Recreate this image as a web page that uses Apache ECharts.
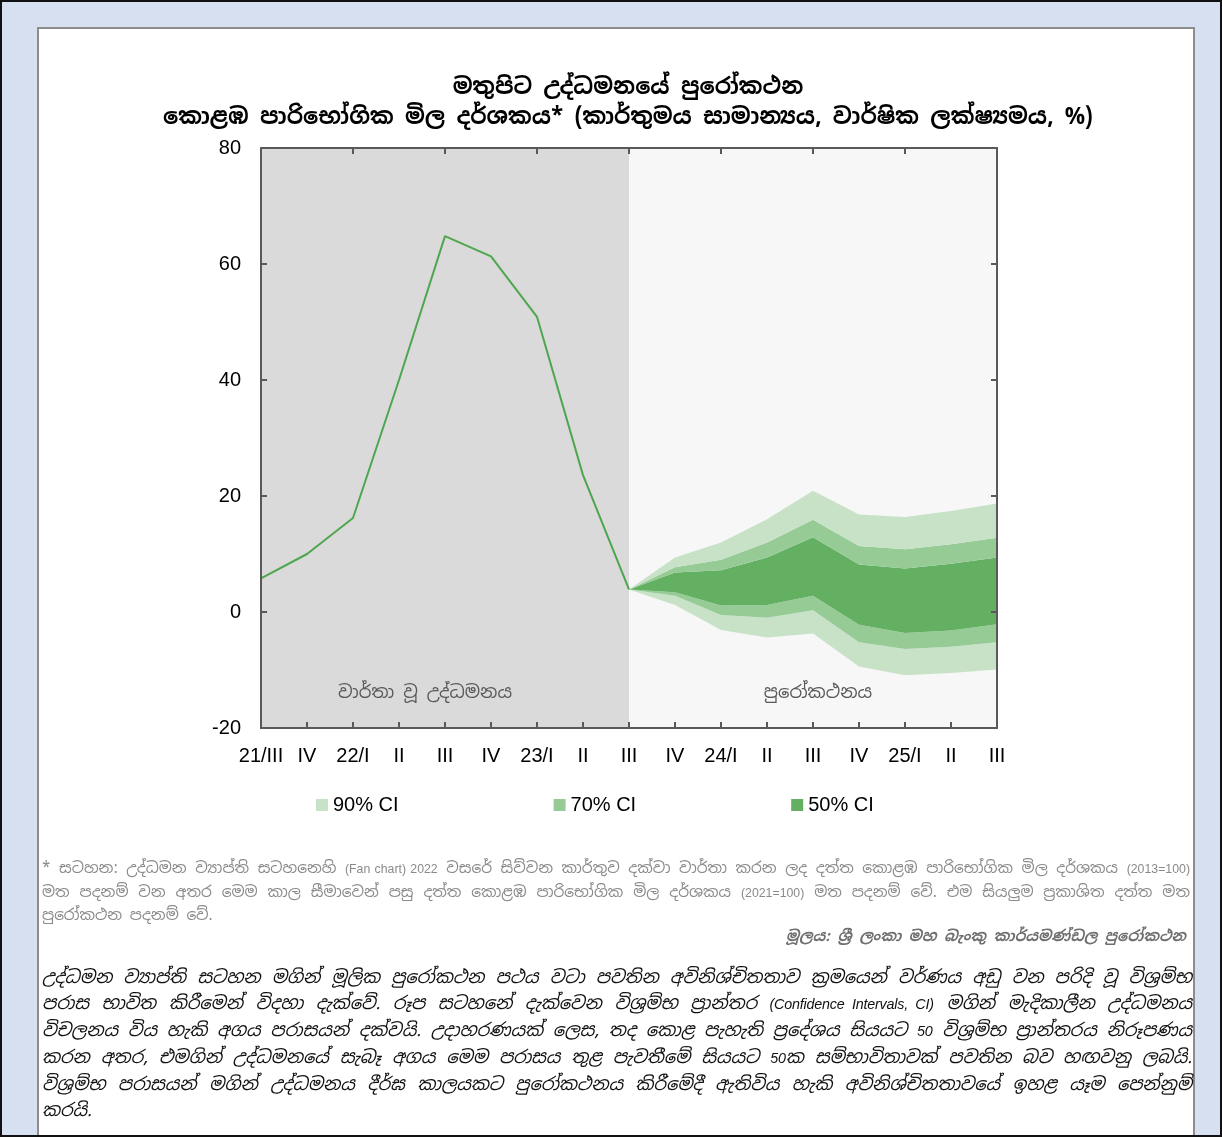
<!DOCTYPE html>
<html>
<head>
<meta charset="utf-8">
<script src="https://cdn.jsdelivr.net/npm/echarts@6/dist/echarts.min.js"></script>
<style>
  html, body { margin: 0; padding: 0; }
  body {
    width: 1222px; height: 1137px; position: relative; overflow: hidden;
    background: #d6e0f1; box-sizing: border-box; border: 2px solid #111;
    font-family: "Noto Sans Sinhala", "Iskoola Pota", "Noto Sans", Arial, sans-serif;
  }
  #panel {
    position: absolute; left: 35px; top: 25px; width: 1154px; height: 1106px;
    background: #fff; border: 2px solid #8c8c8c;
  }
  #chart { position: absolute; left: -2px; top: -2px; width: 1222px; height: 1137px; }
  .note {
    position: absolute; left: 40px; top: 855px; width: 1148px;
    font-size: 15.4px; line-height: 21.5px; color: #8a8a8a; text-align: justify;
  }
  .source {
    position: absolute; right: 34px; top: 924px;
    font-size: 15px; font-style: italic; font-weight: bold; color: #707070;
  }
  .para {
    position: absolute; left: 40px; top: 962px; width: 1150px;
    font-size: 17.9px; line-height: 26px; font-style: italic; color: #111; text-align: justify;
  }
  /* Latin runs are set a little smaller, in Liberation Sans */
  .lat { font-family: "Liberation Sans", Arial, sans-serif; font-size: 0.8em; }
  .para .lat { font-size: 0.8em; letter-spacing: -0.2px; }
</style>
</head>
<body>
<div id="panel"></div>
<div id="chart"></div>
<div class="note">* සටහන: උද්ධමන ව්‍යාප්ති සටහනෙහි <span class="lat">(Fan chart) 2022</span> වසරේ සිව්වන කාර්තුව දක්වා වාර්තා කරන ලද දත්ත කොළඹ පාරිභෝගික මිල දර්ශකය <span class="lat">(2013=100)</span> මත පදනම් වන අතර මෙම කාල සීමාවෙන් පසු දත්ත කොළඹ පාරිභෝගික මිල දර්ශකය <span class="lat">(2021=100)</span> මත පදනම් වේ. එම සියලුම ප්‍රකාශිත දත්ත මත පුරෝකථන පදනම් වේ.</div>
<div class="source">මූලය: ශ්‍රී ලංකා මහ බැංකු කාර්යමණ්ඩල පුරෝකථන</div>
<div class="para">උද්ධමන ව්‍යාප්ති සටහන මගින් මූලික පුරෝකථන පථය වටා පවතින අවිනිශ්චිතතාව ක්‍රමයෙන් වර්ණය අඩු වන පරිදි වූ විශ්‍රම්භ පරාස භාවිත කිරීමෙන් විදහා දැක්වේ. රූප සටහනේ දැක්වෙන විශ්‍රම්භ ප්‍රාන්තර <span class="lat">(Confidence Intervals, CI)</span> මගින් මැදිකාලීන උද්ධමනය විචලනය විය හැකි අගය පරාසයන් දක්වයි. උදාහරණයක් ලෙස, තද කොළ පැහැති ප්‍රදේශය සියයට <span class="lat">50</span> විශ්‍රම්භ ප්‍රාන්තරය නිරූපණය කරන අතර, එමගින් උද්ධමනයේ සැබෑ අගය මෙම පරාසය තුළ පැවතීමේ සියයට <span class="lat">50</span>ක සම්භාවිතාවක් පවතින බව හඟවනු ලබයි. විශ්‍රම්භ පරාසයන් මගින් උද්ධමනය දීර්ඝ කාලයකට පුරෝකථනය කිරීමේදී ඇතිවිය හැකි අවිනිශ්චිතතාවයේ ඉහළ යෑම පෙන්නුම් කරයි.</div>

<script>
// Quarters shown on the x axis (unique keys) and their printed tick labels
const quarters = ['2021Q3','2021Q4','2022Q1','2022Q2','2022Q3','2022Q4','2023Q1','2023Q2','2023Q3',
                  '2023Q4','2024Q1','2024Q2','2024Q3','2024Q4','2025Q1','2025Q2','2025Q3'];
const tickLabels = ['21/III','IV','22/I','II','III','IV','23/I','II','III',
                    'IV','24/I','II','III','IV','25/I','II','III'];

// Reported headline inflation (CCPI, y-o-y %, quarterly average)
const actual = [5.8, 10.0, 16.2, 40.0, 64.8, 61.3, 50.9, 23.6, 3.9];

// Fan chart bounds from 2023Q3 onwards (confidence intervals)
const ci90Lower = [3.9, 1.2, -3.1, -4.4, -3.7, -9.4, -10.9, -10.5, -9.9];
const ci70Lower = [3.9, 2.8, -0.5, -1.0, 0.3, -5.2, -6.4, -6.0, -5.2];
const ci50Lower = [3.9, 3.4, 1.1, 1.2, 2.8, -2.2, -3.6, -3.2, -2.1];
const ci50Upper = [3.9, 6.8, 7.2, 9.4, 12.9, 8.2, 7.5, 8.3, 9.4];
const ci70Upper = [3.9, 7.7, 9.0, 12.0, 15.9, 11.4, 10.8, 11.7, 12.8];
const ci90Upper = [3.9, 9.4, 12.0, 16.0, 20.9, 16.8, 16.4, 17.4, 18.7];

const yTicks = { min: -20, max: 80, interval: 20 };

const fanStart = actual.length - 1;
const pad = (arr) => Array(fanStart).fill('-').concat(arr);
const diff = (hi, lo) => hi.map((v, i) => +(v - lo[i]).toFixed(2));

const colors = { light: '#c8e2c8', mid: '#96cb96', dark: '#63b063', line: '#4ea64e' };
const axisColor = '#595959';
const baseFont = 'Arial, "Liberation Sans", sans-serif';
const sinhalaFont = '"Noto Sans Sinhala", "Iskoola Pota", "Noto Sans", sans-serif';

function band(name, values, color) {
  return {
    name, type: 'line', stack: 'fan', stackStrategy: 'all',
    data: pad(values), symbol: 'none', silent: true,
    lineStyle: { width: 0, opacity: 0 },
    itemStyle: { color },
    areaStyle: { color, opacity: 1 },
    z: 2
  };
}

const chart = echarts.init(document.getElementById('chart'), null, { renderer: 'canvas' });

const axisLine = { show: true, onZero: false, lineStyle: { color: axisColor, width: 2 } };
const axisTick = { show: true, inside: true, length: 6, lineStyle: { color: axisColor, width: 2 } };
const xCommon = {
  type: 'category', data: quarters, boundaryGap: false,
  axisLine, axisTick, splitLine: { show: false }, z: 10
};
const yCommon = {
  type: 'value', min: yTicks.min, max: yTicks.max, interval: yTicks.interval,
  axisLine, axisTick, splitLine: { show: false }, z: 10
};

chart.setOption({
  backgroundColor: 'transparent',
  animation: false,
  title: {
    text: 'මතුපිට උද්ධමනයේ පුරෝකථන\nකොළඹ පාරිභෝගික මිල දර්ශකය* (කාර්තුමය සාමාන්‍යය, වාර්ෂික ලක්ෂ්‍යමය, %)',
    left: 623, top: 68, textAlign: 'center',
    textStyle: { fontFamily: sinhalaFont, fontSize: 22.6, fontWeight: 'bold', color: '#000', lineHeight: 30 }
  },
  grid: {
    left: 261, top: 148, width: 736, height: 580,
    show: true, backgroundColor: '#f7f7f7', borderWidth: 0
  },
  legend: {
    left: 311, top: 790, icon: 'rect', itemWidth: 12, itemHeight: 12, itemGap: 155,
    data: ['90% CI', '70% CI', '50% CI'],
    textStyle: { fontFamily: baseFont, fontSize: 20, color: '#000' }
  },
  xAxis: [
    Object.assign({}, xCommon, {
      position: 'bottom',
      axisLabel: {
        show: true, margin: 18, interval: 0, color: '#000', fontFamily: baseFont, fontSize: 20,
        formatter: (v, i) => tickLabels[i]
      }
    }),
    Object.assign({}, xCommon, { position: 'top', axisLabel: { show: false } })
  ],
  yAxis: [
    Object.assign({}, yCommon, {
      position: 'left',
      axisLabel: { show: true, margin: 20, color: '#000', fontFamily: baseFont, fontSize: 20 }
    }),
    Object.assign({}, yCommon, { position: 'right', axisLabel: { show: false } })
  ],
  series: [
    {
      name: 'actual', type: 'line', data: actual, symbol: 'none',
      lineStyle: { color: colors.line, width: 2 }, itemStyle: { color: colors.line },
      z: 5,
      markArea: {
        silent: true,
        data: [
          [{ xAxis: quarters[0], itemStyle: { color: '#dadada' },
             label: { show: true, position: 'insideBottom', distance: 26, offset: [-20, 0],
                      formatter: 'වාර්තා වූ උද්ධමනය', color: '#595959', fontFamily: sinhalaFont, fontSize: 18 } },
           { xAxis: quarters[fanStart] }],
          [{ xAxis: quarters[fanStart], itemStyle: { color: 'rgba(0,0,0,0)' },
             label: { show: true, position: 'insideBottom', distance: 26, offset: [5, 0],
                      formatter: 'පුරෝකථනය', color: '#595959', fontFamily: sinhalaFont, fontSize: 18 } },
           { xAxis: quarters[quarters.length - 1] }]
        ]
      }
    },
    { name: 'base', type: 'line', stack: 'fan', stackStrategy: 'all', data: pad(ci90Lower),
      symbol: 'none', silent: true, lineStyle: { width: 0, opacity: 0 }, z: 2 },
    band('90% CI', diff(ci70Lower, ci90Lower), colors.light),
    band('70% CI', diff(ci50Lower, ci70Lower), colors.mid),
    band('50% CI', diff(ci50Upper, ci50Lower), colors.dark),
    band('70% CI', diff(ci70Upper, ci50Upper), colors.mid),
    band('90% CI', diff(ci90Upper, ci70Upper), colors.light)
  ]
});
</script>
</body>
</html>
